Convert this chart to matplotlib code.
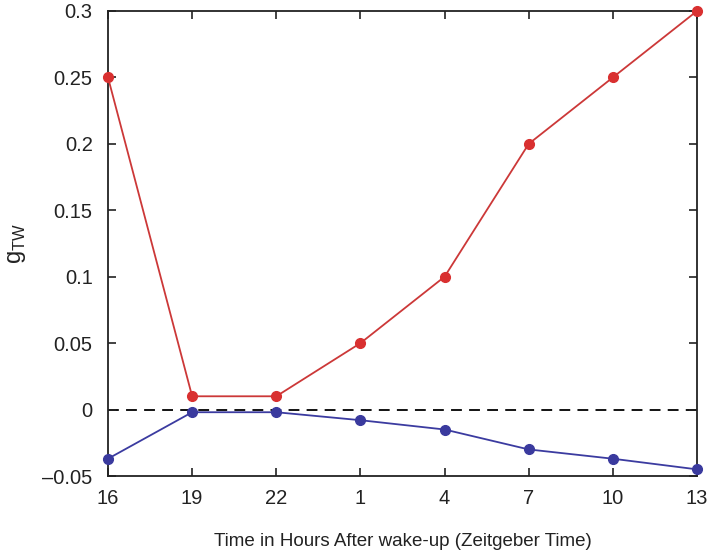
import matplotlib
matplotlib.use("Agg")
import matplotlib.pyplot as plt

plt.rcParams['font.family'] = ['Liberation Sans', 'DejaVu Sans']

hours = ['16', '19', '22', '1', '4', '7', '10', '13']
g_red = [0.25, 0.01, 0.01, 0.05, 0.10, 0.20, 0.25, 0.30]
g_blue = [-0.037, -0.002, -0.002, -0.008, -0.015, -0.030, -0.037, -0.045]
yticks = [-0.05, 0, 0.05, 0.1, 0.15, 0.2, 0.25, 0.3]
yticklabels = ['\u20130.05', '0', '0.05', '0.1', '0.15', '0.2', '0.25', '0.3']

fig = plt.figure(figsize=(7.09, 5.53), dpi=100)
ax = fig.add_axes([108 / 709, 1 - 476 / 553, (697 - 108) / 709, (476 - 11) / 553])

x = list(range(len(hours)))
ax.axhline(0, color='black', lw=1.3, ls=(0, (6, 4)), zorder=1)
ax.plot(x, g_red, color='#cc3838', lw=1.3, marker='o', ms=7,
        mfc='#d93030', mec='#d93030', clip_on=False, zorder=3)
ax.plot(x, g_blue, color='#3b3ba0', lw=1.3, marker='o', ms=7,
        mfc='#3a3a9e', mec='#3a3a9e', clip_on=False, zorder=3)

ax.set_xlim(0, len(hours) - 1)
ax.set_ylim(-0.05, 0.3)
ax.set_xticks(x)
ax.set_xticklabels(hours)
ax.set_yticks(yticks)
ax.set_yticklabels(yticklabels)
ax.tick_params(direction='in', length=6, width=1.2, top=True, right=True,
               labelsize=14.5, colors='#222222')
ax.tick_params(axis='y', pad=11)
ax.tick_params(axis='x', pad=9)
for s in ax.spines.values():
    s.set_linewidth(1.3)
    s.set_color('#222222')

ax.set_xlabel('Time in Hours After wake-up (Zeitgeber Time)', fontsize=13.5, labelpad=18, color='#222222')
ax.set_ylabel('g$_{\\mathregular{TW}}$', fontsize=17, color='#222222')
ax.yaxis.set_label_coords(-0.135, 0.5)

fig.savefig('out.png', dpi=100)
